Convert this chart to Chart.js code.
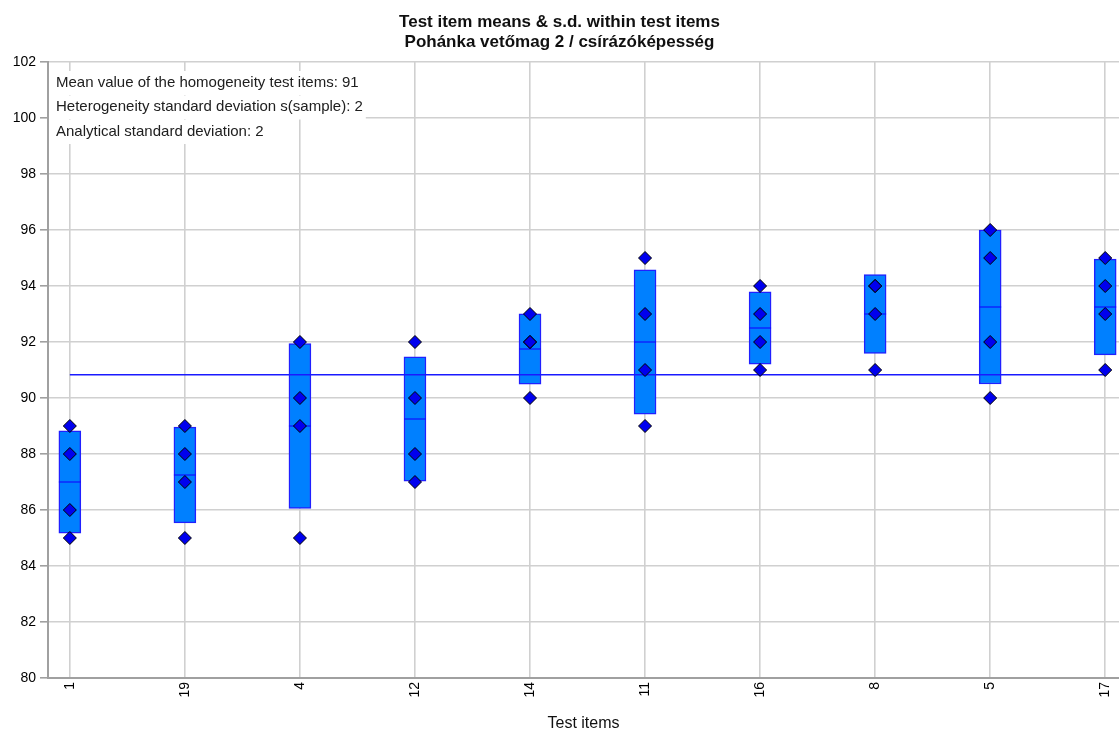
<!DOCTYPE html>
<html>
<head>
<meta charset="utf-8">
<script src="https://cdn.jsdelivr.net/npm/chart.js@4"></script>
<style>
html,body{margin:0;padding:0;background:#fff;}
#wrap{width:1119px;height:733px;}
</style>
</head>
<body>
<div id="wrap"><canvas id="c" width="1119" height="733"></canvas></div>
<script>
// Categories (test items, in plotted order)
const categories = ['1','19','4','12','14','11','16','8','5','17'];
// Replicate results per test item (read from the diamonds)
const rep1 = [85, 85, 85, 87, 90, 89, 91, 91, 90, 91];
const rep2 = [86, 87, 89, 88, 92, 91, 92, 93, 92, 93];
const rep3 = [88, 88, 90, 90, 92, 93, 93, 94, 95, 94];
const rep4 = [89, 89, 92, 92, 93, 95, 94, 94, 96, 95];
// Box (mean ± s.d.) and item means
const boxLow  = [85.17, 85.54, 86.06, 87.03, 90.49, 89.42, 91.21, 91.59, 90.50, 91.54];
const boxHigh = [88.83, 88.96, 91.94, 91.47, 93.01, 94.58, 93.79, 94.41, 96.00, 94.96];
const itemMeans = [87.00, 87.25, 89.00, 89.25, 91.75, 92.00, 92.50, 93.00, 93.25, 93.25];
const grandMean = 90.83;
const yTicks = [80,82,84,86,88,90,92,94,96,98,100,102];
const titleLines = ['Test item means & s.d. within test items', 'Pohánka vetőmag 2 / csírázóképesség'];
const infoLines = ['Mean value of the homogeneity test items: 91',
                   'Heterogeneity standard deviation s(sample): 2',
                   'Analytical standard deviation: 2'];
const xTitle = 'Test items';

const FONT = '"Liberation Sans", Arial, sans-serif';

const diamondData = [];
[rep1, rep2, rep3, rep4].forEach(arr => arr.forEach((v, i) => diamondData.push({x: i, y: v})));

const textPlugin = {
  id: 'texts',
  afterDatasetsDraw(chart) {
    const ctx = chart.ctx;
    const ca = chart.chartArea;
    ctx.save();
    ctx.font = '15px ' + FONT;
    ctx.textBaseline = 'middle';
    ctx.textAlign = 'left';
    const centers = [82.5, 107, 131.5];
    infoLines.forEach((t, i) => {
      const w = ctx.measureText(t).width;
      ctx.fillStyle = '#ffffff';
      ctx.fillRect(ca.left + 1, centers[i] - 11.5, w + 10, 24);
    });
    ctx.fillStyle = '#202020';
    infoLines.forEach((t, i) => ctx.fillText(t, ca.left + 8, centers[i]));
    ctx.restore();
  },
  afterDraw(chart) {
    const ctx = chart.ctx;
    ctx.save();
    ctx.font = 'bold 17px ' + FONT;
    ctx.fillStyle = '#101010';
    ctx.textAlign = 'center';
    ctx.textBaseline = 'alphabetic';
    ctx.fillText(titleLines[0], chart.width / 2, 27);
    ctx.fillText(titleLines[1], chart.width / 2, 47);
    ctx.restore();
  }
};

new Chart(document.getElementById('c'), {
  type: 'bar',
  data: {
    datasets: [
      {
        type: 'scatter',
        label: 'results',
        data: diamondData,
        pointStyle: 'rectRot',
        radius: 6.5,
        hoverRadius: 6.5,
        backgroundColor: '#0000ee',
        borderColor: '#000000',
        borderWidth: 1,
        clip: false,
        order: 0
      },
      {
        type: 'scatter',
        label: 'item means',
        data: itemMeans.map((m, i) => ({x: i, y: m})),
        pointStyle: 'line',
        radius: 11,
        hoverRadius: 11,
        borderColor: '#1010ff',
        borderWidth: 1.2,
        order: 1
      },
      {
        type: 'line',
        label: 'grand mean',
        data: [{x: 0, y: grandMean}, {x: categories.length - 1, y: grandMean}],
        borderColor: '#1a1aff',
        borderWidth: 1.3,
        pointRadius: 0,
        fill: false,
        order: 2
      },
      {
        type: 'bar',
        label: 'mean ± s.d.',
        data: boxLow.map((lo, i) => ({x: i, y: [lo, boxHigh[i]]})),
        backgroundColor: '#0080ff',
        borderColor: '#2020ff',
        borderWidth: 1.5,
        borderSkipped: false,
        barThickness: 22,
        grouped: false,
        order: 3
      }
    ]
  },
  options: {
    animation: false,
    responsive: false,
    maintainAspectRatio: false,
    events: [],
    layout: { autoPadding: false, padding: { top: 62, right: 0, bottom: 0, left: 0 } },
    plugins: {
      legend: { display: false },
      tooltip: { enabled: false },
      title: { display: false }
    },
    scales: {
      x: {
        type: 'linear',
        offset: false,
        min: -0.19,
        max: 9.12,
        afterBuildTicks: (s) => { s.ticks = categories.map((_, i) => ({value: i})); },
        afterFit: (s) => { s.height = 55; s.paddingLeft = 0; s.paddingRight = 0; },
        grid: { color: '#d0d0d0', lineWidth: 1.6, offset: false, drawTicks: false, tickLength: 0 },
        border: { color: '#a0a0a0', width: 2 },
        ticks: {
          autoSkip: false,
          maxRotation: 90,
          minRotation: 90,
          padding: 4,
          color: '#000000',
          font: { family: FONT, size: 14 },
          callback: (v) => categories[v]
        },
        title: {
          display: true,
          text: xTitle,
          color: '#101010',
          font: { family: FONT, size: 16 },
          padding: { top: 0, bottom: 0 }
        }
      },
      y: {
        type: 'linear',
        min: 80,
        max: 102,
        afterBuildTicks: (s) => { s.ticks = yTicks.map(v => ({value: v})); },
        afterFit: (s) => { s.width = 48; },
        grid: { color: '#d0d0d0', lineWidth: 1.6, drawTicks: true, tickLength: 8, tickColor: '#a0a0a0' },
        border: { color: '#a0a0a0', width: 2 },
        ticks: {
          padding: 4,
          color: '#000000',
          font: { family: FONT, size: 14 }
        }
      }
    }
  },
  plugins: [textPlugin]
});
</script>
</body>
</html>
